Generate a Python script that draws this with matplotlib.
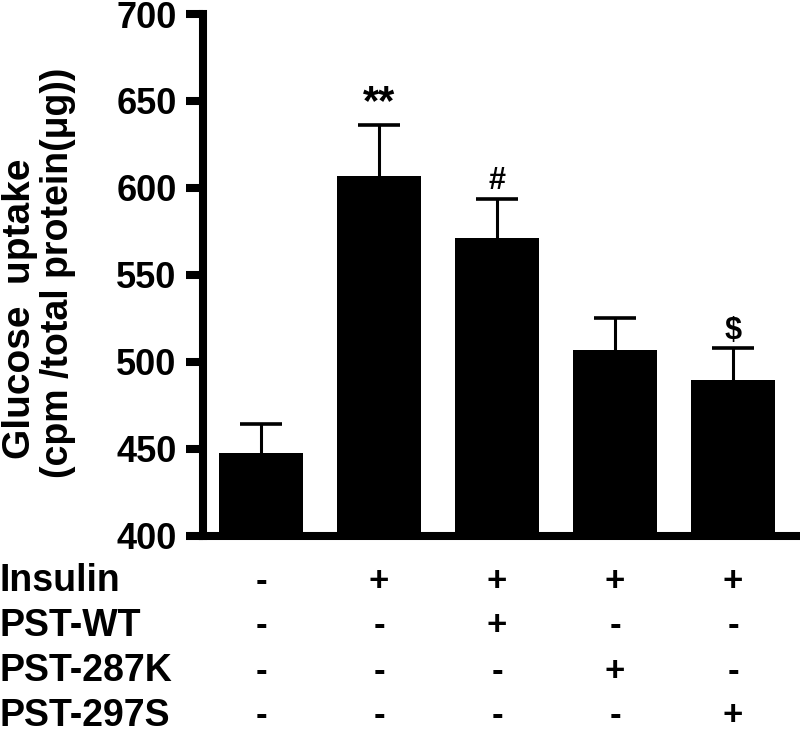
import matplotlib
matplotlib.use('Agg')
import matplotlib.pyplot as plt
import matplotlib.transforms as mtransforms

plt.rcParams['font.family'] = ['Liberation Sans', 'DejaVu Sans']
plt.rcParams['font.weight'] = 'bold'

# data
means = [447.5, 607, 571.4, 506.5, 489.7]
errs = [16.5, 29, 22.3, 18.5, 18.1]
marks = ['', '**', '#', '', '$']
row_names = ['Insulin', 'PST-WT', 'PST-287K', 'PST-297S']
rows = [
    ['-', '+', '+', '+', '+'],
    ['-', '-', '+', '-', '-'],
    ['-', '-', '-', '+', '-'],
    ['-', '-', '-', '-', '+'],
]
yticks = [400, 450, 500, 550, 600, 650, 700]

fig = plt.figure(figsize=(8, 7.35), dpi=100)
ax = fig.add_axes([0.2538, 0.2714, 0.7425, 0.7095])

x = list(range(len(means)))
ax.bar(x, [m - 400 for m in means], bottom=400, width=0.712, color='black')
_, caps, _ = ax.errorbar(x, means, yerr=[[0] * len(errs), errs], fmt='none', ecolor='black',
                         elinewidth=2.2, capsize=15, capthick=2.6)
# only the upper caps
for c in caps:
    if list(c.get_ydata()) == list(means):
        c.set_visible(False)

for i, m in enumerate(marks):
    if m:
        ax.text(i, means[i] + errs[i] + 1.5, m, ha='center', va='bottom',
                fontsize=30 if m == '**' else 22, fontweight='bold')

ax.set_xlim(-0.4915, 4.542)
ax.set_ylim(400, 700)
ax.set_yticks(yticks)
ax.set_xticks([])
ax.tick_params(axis='y', length=12, width=5.8, pad=7, labelsize=26)
for lab in ax.get_yticklabels():
    lab.set_fontweight('bold')
for s in ['top', 'right']:
    ax.spines[s].set_visible(False)
for s in ['left', 'bottom']:
    ax.spines[s].set_linewidth(5.8)
    ax.spines[s].set_capstyle('projecting')

fig.text(20 / 800, 1 - 309 / 735, 'Glucose  uptake', rotation=90, ha='center', va='center',
         fontsize=28, fontweight='bold')
fig.text(58 / 800, 1 - 273 / 735, '(cpm /total protein(\u03bcg))', rotation=90, ha='center',
         va='center', fontsize=27, fontweight='bold')

# condition table under the axis
trans = mtransforms.blended_transform_factory(ax.transData, fig.transFigure)
row_y = [581, 626, 671, 716]
for name, vals, py in zip(row_names, rows, row_y):
    fy = 1 - py / 735
    fig.text(0.0, fy, name, ha='left', va='center', fontsize=27, fontweight='bold')
    for i, v in enumerate(vals):
        ax.text(i, fy, v, transform=trans, ha='center', va='center',
                fontsize=25, fontweight='bold')

fig.savefig('out.png', dpi=100)
